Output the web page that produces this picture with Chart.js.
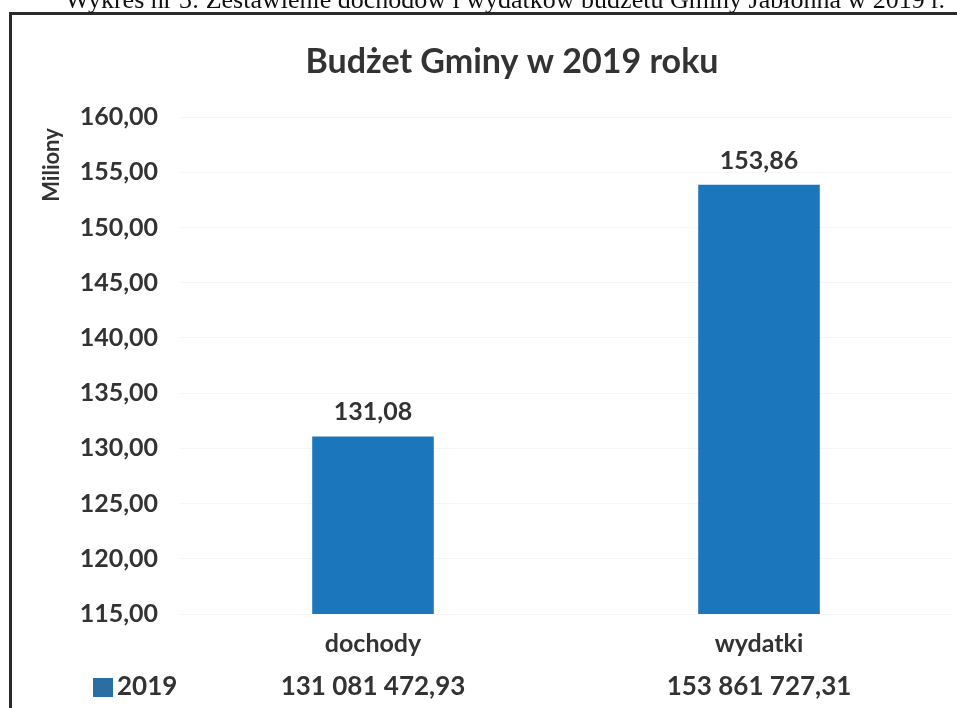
<!DOCTYPE html>
<html>
<head>
<meta charset="utf-8">
<script src="https://cdn.jsdelivr.net/npm/chart.js@4.4.1/dist/chart.umd.min.js"></script>
<style>
  html, body { margin: 0; padding: 0; background: #fff; }
  #wrap { width: 957px; height: 708px; position: relative; }
</style>
</head>
<body>
<div id="wrap"><canvas id="budzetChart" width="957" height="708"></canvas></div>
<script>
// dane z wykresu (mln zł)
const categories = ['dochody', 'wydatki'];
const values2019 = [131.08, 153.86];
const tableValues = ['131 081 472,93', '153 861 727,31'];
const seriesName = '2019';
const yMin = 115;
const yMax = 160;
const yStep = 5;

const textColor = '#333333';
const barColor = '#1c76bc';
const fontFamily = 'Lato, "Open Sans", sans-serif';

const fmt = (v) => v.toFixed(2).replace('.', ',');

// podpisy, tytuł, tabela danych i ramka
const extras = {
  id: 'extras',
  afterDraw(chart) {
    const c = chart.ctx;
    const xScale = chart.scales.x;
    c.save();

    // ramka (góra + lewa)
    c.strokeStyle = '#2b2b2b';
    c.lineWidth = 3;
    c.beginPath();
    c.moveTo(10.5, 708);
    c.lineTo(10.5, 13.5);
    c.lineTo(957, 13.5);
    c.stroke();

    // obcięty podpis dokumentu
    c.fillStyle = '#111';
    c.font = '26px "Liberation Serif", serif';
    c.textAlign = 'center';
    c.textBaseline = 'alphabetic';
    c.fillText('Wykres nr 3: Zestawienie dochodów i wydatków budżetu Gminy Jabłonna w 2019 r.', 505, 8);

    // tytuł
    c.fillStyle = textColor;
    c.font = 'bold 34px ' + fontFamily;
    c.textBaseline = 'middle';
    c.fillText('Budżet Gminy w 2019 roku', 512, 62);

    // tytuł osi Y
    c.save();
    c.translate(52, 165);
    c.rotate(-Math.PI / 2);
    c.font = 'bold 22px ' + fontFamily;
    c.fillText('Miliony', 0, 0);
    c.restore();

    // etykiety wartości nad słupkami
    c.font = 'bold 25px ' + fontFamily;
    c.textBaseline = 'alphabetic';
    const meta = chart.getDatasetMeta(0);
    meta.data.forEach((bar, i) => {
      c.fillText(fmt(values2019[i]), bar.x, bar.y - 16);
    });

    // tabela danych
    const rowY = 687;
    c.font = 'bold 26px ' + fontFamily;
    c.textBaseline = 'middle';
    tableValues.forEach((t, i) => {
      c.fillText(t, xScale.getPixelForValue(i), rowY);
    });
    c.fillStyle = '#2a6ea6';
    c.fillRect(93, rowY - 9, 20, 19);
    c.fillStyle = textColor;
    c.textAlign = 'left';
    c.fillText(seriesName, 117, rowY);

    c.restore();
  }
};

new Chart(document.getElementById('budzetChart'), {
  type: 'bar',
  data: {
    labels: categories,
    datasets: [{
      label: seriesName,
      data: values2019,
      backgroundColor: barColor,
      borderWidth: 0,
      categoryPercentage: 1,
      barPercentage: 0.315
    }]
  },
  options: {
    responsive: false,
    animation: false,
    devicePixelRatio: 1,
    layout: { padding: { top: 117, right: 5, left: 30, bottom: 0 } },
    plugins: {
      legend: { display: false },
      tooltip: { enabled: false },
      title: { display: false }
    },
    scales: {
      y: {
        min: yMin,
        max: yMax,
        ticks: {
          stepSize: yStep,
          color: textColor,
          font: { family: fontFamily, size: 25, weight: 'bold' },
          padding: 22,
          callback: (v) => fmt(v)
        },
        grid: { color: '#f6f6f6', drawTicks: false },
        border: { display: false },
        afterFit: (scale) => { scale.width = 150; }
      },
      x: {
        ticks: {
          color: textColor,
          font: { family: fontFamily, size: 25, weight: 'bold' },
          padding: 7
        },
        grid: { display: false },
        border: { display: false },
        afterFit: (scale) => { scale.height = 94; }
      }
    }
  },
  plugins: [extras]
});
</script>
</body>
</html>
